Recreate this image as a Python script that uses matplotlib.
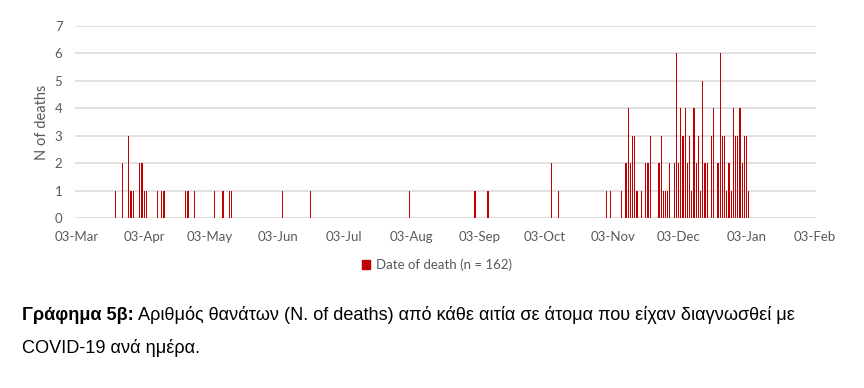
import matplotlib
matplotlib.use("Agg")
import matplotlib.pyplot as plt
import matplotlib.dates as mdates
import pandas as pd
from matplotlib.patches import Patch

# daily deaths (2020-03 .. 2021-01)
dates = ["2020-03-21", "2020-03-24", "2020-03-27", "2020-03-28", "2020-03-29",
         "2020-04-01", "2020-04-02", "2020-04-03", "2020-04-04", "2020-04-09",
         "2020-04-11", "2020-04-12", "2020-04-22", "2020-04-23", "2020-04-26",
         "2020-05-05", "2020-05-09", "2020-05-12", "2020-05-13", "2020-06-05",
         "2020-06-18", "2020-08-02", "2020-09-01", "2020-09-07", "2020-10-06",
         "2020-10-09", "2020-10-31", "2020-11-02", "2020-11-07", "2020-11-09",
         "2020-11-10", "2020-11-11", "2020-11-12", "2020-11-13", "2020-11-14",
         "2020-11-16", "2020-11-18", "2020-11-19", "2020-11-20", "2020-11-24",
         "2020-11-25", "2020-11-26", "2020-11-27", "2020-11-28", "2020-11-29",
         "2020-12-01", "2020-12-02", "2020-12-03", "2020-12-04", "2020-12-05",
         "2020-12-06", "2020-12-07", "2020-12-08", "2020-12-09", "2020-12-10",
         "2020-12-11", "2020-12-12", "2020-12-13", "2020-12-14", "2020-12-15",
         "2020-12-16", "2020-12-18", "2020-12-19", "2020-12-21", "2020-12-22",
         "2020-12-23", "2020-12-24", "2020-12-25", "2020-12-26", "2020-12-27",
         "2020-12-28", "2020-12-29", "2020-12-30", "2020-12-31", "2021-01-01",
         "2021-01-02", "2021-01-03", "2021-01-04"]
deaths = [1, 2, 3, 1, 1,
          2, 2, 1, 1, 1,
          1, 1, 1, 1, 1,
          1, 1, 1, 1, 1,
          1, 1, 1, 1, 2,
          1, 1, 1, 1, 2,
          4, 2, 3, 3, 1,
          1, 2, 2, 3, 2,
          3, 1, 1, 1, 2,
          2, 6, 2, 4, 3,
          4, 2, 3, 1, 4,
          2, 3, 1, 5, 2,
          2, 3, 4, 2, 6,
          3, 3, 1, 2, 1,
          4, 3, 3, 4, 2,
          3, 3, 1]

tick_dates = pd.date_range("2020-03-01", "2021-02-01", freq="MS") + pd.Timedelta(days=2)
series_label = "Date of death (n = 162)"
caption_bold = "Γράφημα 5β:"
caption_rest = " Αριθμός θανάτων (N. of deaths) από κάθε αιτία σε άτομα που είχαν διαγνωσθεί με"
caption_line2 = "COVID-19 ανά ημέρα."

bar_color = "#C00000"
grey = "#595959"
grid_c = "#D9D9D9"

fig = plt.figure(figsize=(8.64, 3.88), dpi=100)
ax = fig.add_axes([0.0868, 0.4374, 0.9444 - 0.0868, 0.933 - 0.4374])

x = pd.to_datetime(dates)
ax.bar(x, deaths, width=0.55, color=bar_color, antialiased=False, zorder=3)

ax.set_xlim(tick_dates[0] - pd.Timedelta(days=0.6), tick_dates[-1] + pd.Timedelta(days=0.7))
ax.set_ylim(0, 7)
ax.set_yticks(range(0, 8))
ax.set_xticks(tick_dates)
ax.xaxis.set_major_formatter(mdates.DateFormatter("%d-%b"))
ax.grid(axis="y", color=grid_c, linewidth=1.1, zorder=0)
for s in ax.spines.values():
    s.set_visible(False)
ax.tick_params(length=0, labelsize=9.5, labelcolor=grey, pad=9)
for lab in ax.get_xticklabels() + ax.get_yticklabels():
    lab.set_fontfamily("Lato")
ax.set_ylabel("N of deaths", fontsize=10.5, color=grey, fontfamily="Lato", labelpad=4)

fig.legend(handles=[Patch(color=bar_color)], labels=[series_label],
           loc="center", bbox_to_anchor=(437 / 864, 1 - 265 / 388),
           frameon=False, handlelength=0.6, handleheight=0.7, handletextpad=0.4,
           prop={"family": "Lato", "size": 9.5}, labelcolor=grey)

# caption below the chart
cap_size = 13.1
t1 = fig.text(22 / 864, 1 - 315 / 388, caption_bold, fontsize=cap_size, fontweight="bold",
              fontfamily="Liberation Sans", va="center", ha="left")
fig.canvas.draw()
bb = t1.get_window_extent(fig.canvas.get_renderer())
fig.text(bb.x1 / 864, 1 - 315 / 388, caption_rest, fontsize=cap_size,
         fontfamily="Liberation Sans", va="center", ha="left")
fig.text(22 / 864, 1 - 348 / 388, caption_line2, fontsize=cap_size,
         fontfamily="Liberation Sans", va="center", ha="left")

fig.savefig("out.png", dpi=100)
